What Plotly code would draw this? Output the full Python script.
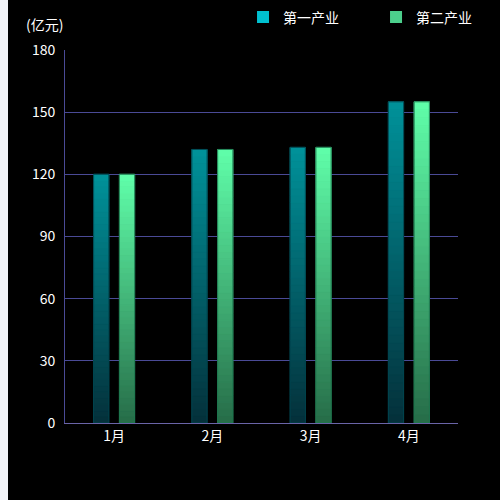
import plotly.graph_objects as go

categories = ["1月", "2月", "3月", "4月"]
series_names = ["第一产业", "第二产业"]
primary_values = [120, 132, 133, 155]
secondary_values = [120, 132, 133, 155]
y_ticks = [0, 30, 60, 90, 120, 150, 180]

# gradient (bottom colour, top colour) per series
grad = [((4, 48, 58), (0, 146, 154)), ((38, 108, 72), (96, 255, 170))]
border = ["rgba(0,70,80,0.9)", "rgba(30,120,80,0.9)"]
legend_col = ["#00c0d0", "#4ccf8c"]
N = 40

fig = go.Figure()
for si, (name, vals) in enumerate(zip(series_names, [primary_values, secondary_values])):
    lo, hi = grad[si]
    for k in range(N):
        t = (k + 0.5) / N
        c = "rgb(%d,%d,%d)" % tuple(int(round(lo[j] + (hi[j] - lo[j]) * t)) for j in range(3))
        fig.add_trace(go.Bar(
            x=categories, y=[v / N for v in vals], base=[v * k / N for v in vals],
            offsetgroup=str(si), marker=dict(color=c, line=dict(width=1, color=c)),
            showlegend=False, hoverinfo="skip"))
    fig.add_trace(go.Bar(
        x=categories, y=vals, offsetgroup=str(si), name=name,
        marker=dict(color="rgba(0,0,0,0)", line=dict(width=1, color=border[si])),
        showlegend=False))
    fig.add_trace(go.Bar(
        x=[None], y=[None], name=name, offsetgroup=str(si),
        marker=dict(color=legend_col[si], line=dict(width=0)), showlegend=True))

axis_col = "#4a4a96"
fig.update_layout(
    width=500, height=500,
    margin=dict(l=57, r=50, t=50, b=77, autoexpand=False),
    paper_bgcolor="#000000", plot_bgcolor="#000000",
    barmode="group", bargap=0.475, bargroupgap=0.41,
    font=dict(family="Noto Sans CJK SC", color="#ffffff", size=14),
    showlegend=True,
    legend=dict(orientation="h", x=0.453, xanchor="left", y=1.0871, yanchor="middle",
                entrywidth=88, entrywidthmode="pixels",
                font=dict(size=14, color="#ffffff"), bgcolor="rgba(0,0,0,0)",
                itemclick=False, itemdoubleclick=False),
    xaxis=dict(showline=True, linecolor="#6a64a8", linewidth=1, ticks="",
               showgrid=False, tickfont=dict(size=14, color="#ffffff"), fixedrange=True),
    yaxis=dict(range=[0, 180], tickvals=y_ticks, showline=True, linecolor=axis_col,
               linewidth=1, gridcolor=axis_col, gridwidth=1, zeroline=False,
               ticks="outside", ticklen=6, tickcolor="rgba(0,0,0,0)",
               tickfont=dict(size=14, color="#ffffff"), fixedrange=True),
    annotations=[dict(text="(亿元)", xref="paper", yref="paper", x=-0.051, y=1.07,
                      xanchor="center", yanchor="middle", showarrow=False,
                      font=dict(size=14, color="#ffffff"))],
)

post = ("document.body.style.margin='0 0 0 8px';"
        "document.body.style.background='#f2f4f8';"
        "document.documentElement.style.overflow='hidden';")
fig.write_html("out.html", post_script=post)
